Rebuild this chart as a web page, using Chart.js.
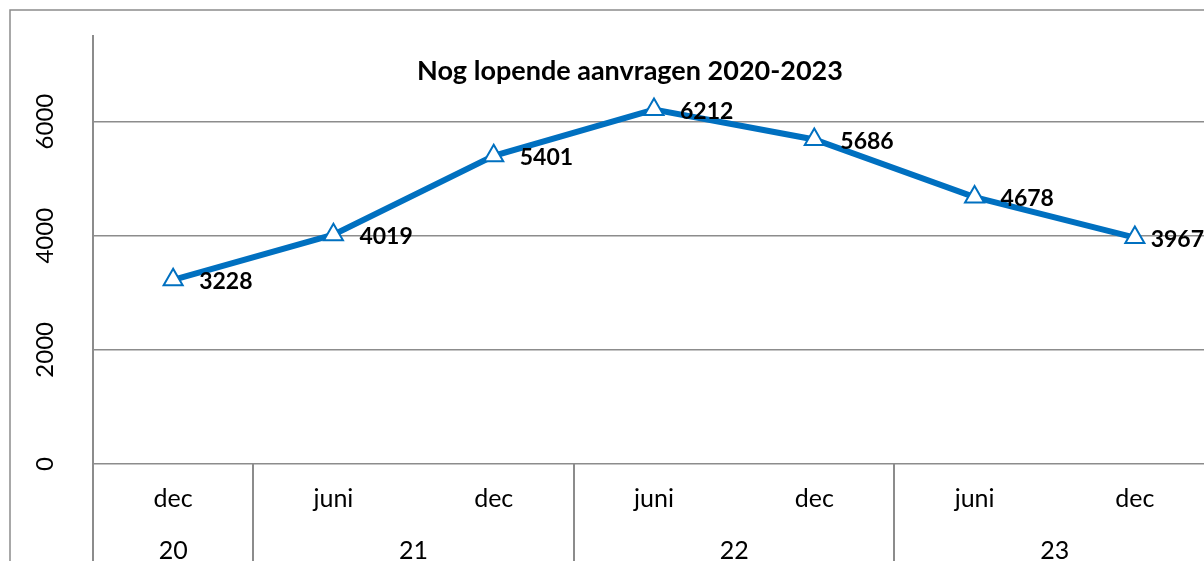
<!DOCTYPE html>
<html>
<head>
<meta charset="utf-8">
<script src="https://cdn.jsdelivr.net/npm/chart.js@4"></script>
<style>
  html, body { margin: 0; padding: 0; background: #fff; overflow: hidden; }
  #wrap { width: 1204px; height: 561px; overflow: hidden; position: relative; }
  canvas { display: block; }
</style>
</head>
<body>
<div id="wrap"><canvas id="chart" width="1240" height="561"></canvas></div>
<script>
const months = ['dec', 'juni', 'dec', 'juni', 'dec', 'juni', 'dec'];
const years = ['20', '21', '22', '23'];
// index range of the categories belonging to each year
const yearSpans = [[0, 0], [1, 2], [3, 4], [5, 6]];
const lopend = [3228, 4019, 5401, 6212, 5686, 4678, 3967];
const yTicks = [0, 2000, 4000, 6000];

const FONT = 'Lato, "Open Sans", sans-serif';
const GRAY = '#8c8c8c';
const BLUE = '#0070c0';
const VISIBLE_W = 1204;

const excelLook = {
  id: 'excelLook',
  afterDraw(chart) {
    const {ctx, chartArea, scales} = chart;
    const x = scales.x, y = scales.y;
    ctx.save();

    // outer frame
    ctx.strokeStyle = GRAY;
    ctx.lineWidth = 1.5;
    ctx.beginPath();
    ctx.moveTo(10, 561);
    ctx.lineTo(10, 10);
    ctx.lineTo(chart.width, 10);
    ctx.stroke();

    // y axis line running through the category area
    ctx.lineWidth = 2;
    ctx.beginPath();
    ctx.moveTo(chartArea.left, chartArea.top);
    ctx.lineTo(chartArea.left, 561);
    ctx.stroke();

    // year dividers
    const half = (x.getPixelForValue(1) - x.getPixelForValue(0)) / 2;
    yearSpans.slice(1).forEach(([a]) => {
      const px = Math.round(x.getPixelForValue(a) - half);
      ctx.beginPath();
      ctx.moveTo(px, chartArea.bottom);
      ctx.lineTo(px, 561);
      ctx.stroke();
    });

    // y tick labels, rotated
    ctx.fillStyle = '#000';
    ctx.font = '24px ' + FONT;
    ctx.textAlign = 'center';
    ctx.textBaseline = 'middle';
    yTicks.forEach(v => {
      ctx.save();
      ctx.translate(45, y.getPixelForValue(v));
      ctx.rotate(-Math.PI / 2);
      ctx.fillText(String(v), 0, 0);
      ctx.restore();
    });

    // month row
    ctx.font = '25px ' + FONT;
    months.forEach((m, i) => {
      ctx.fillText(m, x.getPixelForValue(i), chartArea.bottom + 35);
    });

    // year row
    years.forEach((yr, i) => {
      const [a, b] = yearSpans[i];
      const cx = (x.getPixelForValue(a) + x.getPixelForValue(b)) / 2;
      ctx.fillText(yr, cx, chartArea.bottom + 87);
    });

    // title
    ctx.font = 'bold 27px ' + FONT;
    ctx.fillText('Nog lopende aanvragen 2020-2023', 630, 71);

    // data labels, kept inside the visible frame
    ctx.font = 'bold 23px ' + FONT;
    ctx.textAlign = 'left';
    const meta = chart.getDatasetMeta(0);
    meta.data.forEach((pt, i) => {
      const txt = String(lopend[i]);
      const w = ctx.measureText(txt).width;
      const lx = Math.min(pt.x + 26, VISIBLE_W - w);
      ctx.fillText(txt, lx, pt.y + 2);
    });

    ctx.restore();
  }
};

new Chart(document.getElementById('chart'), {
  type: 'line',
  data: {
    labels: months,
    datasets: [{
      data: lopend,
      borderColor: BLUE,
      borderWidth: 6,
      tension: 0,
      pointStyle: 'triangle',
      pointRadius: 11,
      pointBackgroundColor: '#fff',
      pointBorderColor: BLUE,
      pointBorderWidth: 2
    }]
  },
  options: {
    responsive: false,
    animation: false,
    layout: { padding: { left: 10, top: 36, right: 25, bottom: 0 } },
    plugins: { legend: { display: false }, title: { display: false }, tooltip: { enabled: false } },
    scales: {
      x: {
        offset: true,
        grid: { display: false },
        border: { display: false },
        ticks: { display: false },
        afterFit: s => { s.height = 97; }
      },
      y: {
        min: 0,
        max: 7500,
        ticks: { display: false },
        afterBuildTicks: s => { s.ticks = yTicks.map(v => ({ value: v })); },
        grid: { color: GRAY, lineWidth: 1.5, drawTicks: false },
        border: { display: true, color: GRAY, width: 2 },
        afterFit: s => { s.width = 83; }
      }
    }
  },
  plugins: [excelLook]
});
</script>
</body>
</html>
